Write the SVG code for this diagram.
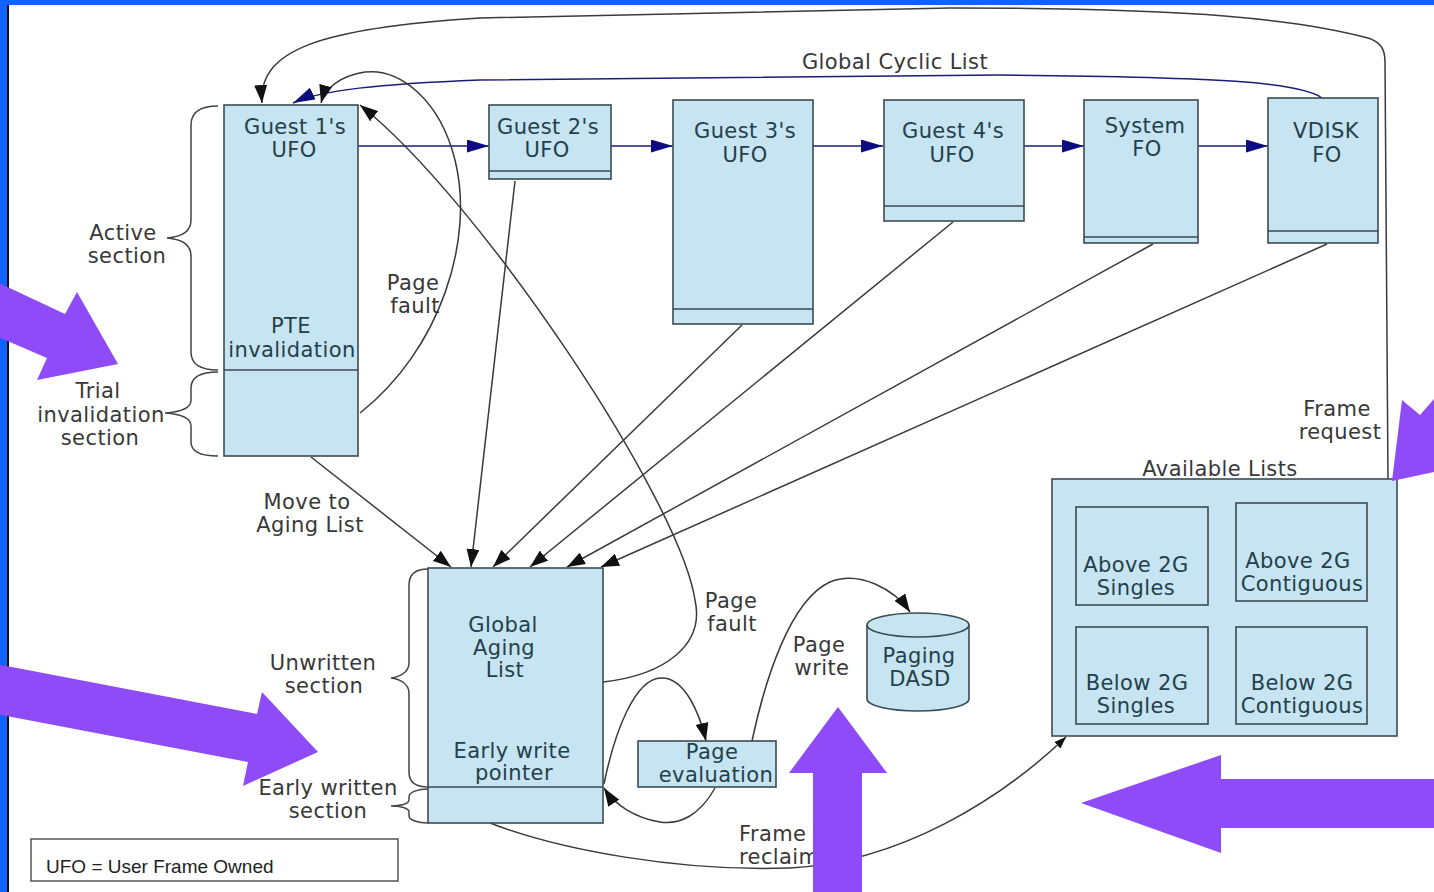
<svg xmlns="http://www.w3.org/2000/svg" width="1434" height="892" viewBox="0 0 1434 892">
<style>
.box{fill:#c6e4f1;stroke:#3b4b52;stroke-width:1.6}
.div{stroke:#3b4b52;stroke-width:1.6;fill:none}
.nt{font-family:"DejaVu Sans",sans-serif;font-size:21px;fill:#24404a;text-anchor:middle;letter-spacing:0.4px}
.lb{font-family:"DejaVu Sans",sans-serif;font-size:21px;fill:#383838;text-anchor:middle;letter-spacing:0.4px}
.ln{fill:none;stroke:#3a3a3a;stroke-width:1.5}
.nv{fill:none;stroke:#1c1c7a;stroke-width:1.5}
.br{fill:none;stroke:#444;stroke-width:1.5}
.pp{fill:#8f4bf8}
</style>
<defs>
<marker id="an" viewBox="0 0 22 13" refX="22" refY="6.5" markerWidth="22" markerHeight="13" markerUnits="userSpaceOnUse" orient="auto"><path d="M0,0 L22,6.5 L0,13 z" fill="#0c0c80"/></marker>
<marker id="ab" viewBox="0 0 18 13" refX="18" refY="6.5" markerWidth="18" markerHeight="13" markerUnits="userSpaceOnUse" orient="auto"><path d="M0,0 L18,6.5 L0,13 z" fill="#111"/></marker>
<marker id="as" viewBox="0 0 12 9" refX="12" refY="4.5" markerWidth="12" markerHeight="9" markerUnits="userSpaceOnUse" orient="auto"><path d="M0,0 L12,4.5 L0,9 z" fill="#111"/></marker>
</defs>
<rect x="0" y="0" width="1434" height="892" fill="#ffffff"/>
<rect x="0" y="0" width="1434" height="5" fill="#1163ff"/>
<rect x="0" y="0" width="7" height="892" fill="#1163ff"/>
<rect x="7" y="5" width="2" height="887" fill="#111"/>

<g id="connectors">
<line class="nv" x1="358" y1="146" x2="489" y2="146" marker-end="url(#an)"/>
<line class="nv" x1="611" y1="146" x2="673" y2="146" marker-end="url(#an)"/>
<line class="nv" x1="813" y1="146" x2="883" y2="146" marker-end="url(#an)"/>
<line class="nv" x1="1024" y1="146" x2="1084" y2="146" marker-end="url(#an)"/>
<line class="nv" x1="1198" y1="146" x2="1268" y2="146" marker-end="url(#an)"/>
<path class="nv" d="M1322,98 C1300,82 1220,77 1000,75 L480,80 C380,84 320,90 293,103" marker-end="url(#an)"/>
<path class="ln" d="M1388,479 L1385,62 C1385,48 1380,42 1368,38 C1300,20 1200,8 950,8 L480,18 C320,28 258,50 262,103" marker-end="url(#ab)"/>
<path class="ln" d="M360,413 C440,350 475,240 455,160 C440,100 400,68 365,72 C340,76 325,88 321,103" marker-end="url(#ab)"/>
<path class="ln" d="M603,682 C665,675 705,645 695,600 C680,500 480,200 360,105" marker-end="url(#ab)"/>
<line class="ln" x1="311" y1="457" x2="451" y2="567" marker-end="url(#ab)"/>
<line class="ln" x1="515" y1="181" x2="471" y2="567" marker-end="url(#ab)"/>
<line class="ln" x1="742" y1="325" x2="493" y2="567" marker-end="url(#ab)"/>
<line class="ln" x1="953" y1="222" x2="530" y2="567" marker-end="url(#ab)"/>
<line class="ln" x1="1153" y1="244" x2="567" y2="567" marker-end="url(#ab)"/>
<line class="ln" x1="1327" y1="244" x2="601" y2="567" marker-end="url(#ab)"/>
<path class="ln" d="M604,784 C615,730 635,680 660,678 C685,676 700,715 706,741" marker-end="url(#ab)"/>
<path class="ln" d="M715,788 C700,815 680,825 660,822 C635,818 615,805 604,788" marker-end="url(#ab)"/>
<path class="ln" d="M752,741 C765,680 790,600 830,582 C860,570 895,590 910,612" marker-end="url(#ab)"/>
<path class="ln" d="M490,823 C560,850 680,872 790,868 C900,862 1000,800 1066,737" marker-end="url(#as)"/>
<path class="ln" d="M237,366 C260,364 292,364 292,368 C292,372 260,378 236,381" marker-end="url(#as)"/>
</g>

<g id="guest1">
<rect class="box" x="224" y="105" width="134" height="351"/>
<line class="div" x1="224" y1="370" x2="358" y2="370"/>
<text class="nt" x="295" y="134">Guest 1's</text>
<text class="nt" x="294" y="157">UFO</text>
<text class="nt" x="291" y="333">PTE</text>
<text class="nt" x="292" y="357">invalidation</text>
</g>
<g id="guest2">
<rect class="box" x="489" y="105" width="122" height="74"/>
<line class="div" x1="489" y1="171" x2="611" y2="171"/>
<text class="nt" x="548" y="134">Guest 2's</text>
<text class="nt" x="547" y="157">UFO</text>
</g>
<g id="guest3">
<rect class="box" x="673" y="100" width="140" height="224"/>
<line class="div" x1="673" y1="309" x2="813" y2="309"/>
<text class="nt" x="745" y="138">Guest 3's</text>
<text class="nt" x="745" y="162">UFO</text>
</g>
<g id="guest4">
<rect class="box" x="884" y="100" width="140" height="121"/>
<line class="div" x1="884" y1="206" x2="1024" y2="206"/>
<text class="nt" x="953" y="138">Guest 4's</text>
<text class="nt" x="952" y="162">UFO</text>
</g>
<g id="systemfo">
<rect class="box" x="1084" y="100" width="114" height="143"/>
<line class="div" x1="1084" y1="237" x2="1198" y2="237"/>
<text class="nt" x="1145" y="133">System</text>
<text class="nt" x="1147" y="156">FO</text>
</g>
<g id="vdiskfo">
<rect class="box" x="1268" y="98" width="110" height="145"/>
<line class="div" x1="1268" y1="231" x2="1378" y2="231"/>
<text class="nt" x="1326" y="138">VDISK</text>
<text class="nt" x="1327" y="162">FO</text>
</g>
<g id="aging">
<rect class="box" x="428" y="568" width="175" height="255"/>
<line class="div" x1="428" y1="787" x2="603" y2="787"/>
<text class="nt" x="503" y="632">Global</text>
<text class="nt" x="504" y="655">Aging</text>
<text class="nt" x="505" y="677">List</text>
<text class="nt" x="512" y="758">Early write</text>
<text class="nt" x="514" y="780">pointer</text>
</g>
<g id="pageeval">
<rect class="box" x="638" y="741" width="138" height="46"/>
<text class="nt" x="712" y="759">Page</text>
<text class="nt" x="716" y="782">evaluation</text>
</g>
<g id="dasd">
<path class="box" d="M867,625 L867,699 A51,12 0 0 0 969,699 L969,625"/>
<ellipse class="box" cx="918" cy="625" rx="51" ry="12"/>
<text class="nt" x="919" y="663">Paging</text>
<text class="nt" x="920" y="686">DASD</text>
</g>
<g id="available">
<rect class="box" x="1052" y="479" width="345" height="257"/>
<text class="lb" x="1220" y="476">Available Lists</text>
<rect class="box" x="1076" y="507" width="132" height="98"/>
<text class="nt" x="1136" y="572">Above 2G</text>
<text class="nt" x="1136" y="595">Singles</text>
<rect class="box" x="1236" y="503" width="131" height="98"/>
<text class="nt" x="1298" y="568">Above 2G</text>
<text class="nt" x="1302" y="591">Contiguous</text>
<rect class="box" x="1076" y="627" width="132" height="97"/>
<text class="nt" x="1137" y="690">Below 2G</text>
<text class="nt" x="1136" y="713">Singles</text>
<rect class="box" x="1236" y="627" width="131" height="97"/>
<text class="nt" x="1302" y="690">Below 2G</text>
<text class="nt" x="1302" y="713">Contiguous</text>
</g>

<g id="braces">
<path class="br" d="M218,106 C200,106 191,112 191,125 L191,220 C191,232 180,237 167,238 C180,239 191,244 191,256 L191,352 C191,364 200,370 218,370"/>
<path class="br" d="M218,372 C200,372 191,378 191,388 L191,400 C191,408 180,412 165,413 C180,414 191,418 191,426 L191,442 C191,451 200,456 218,456"/>
<path class="br" d="M428,569 C415,569 409,575 409,585 L409,663 C409,672 400,677 391,678 C400,679 409,684 409,693 L409,772 C409,782 415,787 428,787"/>
<path class="br" d="M428,789 C418,789 409,792 409,797 L409,800 C409,804 400,806 391,806 C400,806 409,808 409,812 L409,816 C409,820 418,823 428,823"/>
</g>

<g id="labels">
<text class="lb" x="895" y="69">Global Cyclic List</text>
<text class="lb" x="123" y="240">Active</text>
<text class="lb" x="127" y="263">section</text>
<text class="lb" x="98" y="398">Trial</text>
<text class="lb" x="101" y="422">invalidation</text>
<text class="lb" x="100" y="445">section</text>
<text class="lb" x="413" y="290">Page</text>
<text class="lb" x="415" y="313">fault</text>
<text class="lb" x="307" y="509">Move to</text>
<text class="lb" x="310" y="532">Aging List</text>
<text class="lb" x="323" y="670">Unwritten</text>
<text class="lb" x="324" y="693">section</text>
<text class="lb" x="328" y="795">Early written</text>
<text class="lb" x="328" y="818">section</text>
<text class="lb" x="731" y="608">Page</text>
<text class="lb" x="732" y="631">fault</text>
<text class="lb" x="819" y="652">Page</text>
<text class="lb" x="822" y="675">write</text>
<text class="lb" x="739" y="841" style="text-anchor:start">Frame</text>
<text class="lb" x="739" y="864" style="text-anchor:start">reclaim</text>
<text class="lb" x="1337" y="416">Frame</text>
<text class="lb" x="1340" y="439">request</text>
</g>

<g id="legend">
<rect x="31" y="839" width="367" height="42" fill="#fff" stroke="#555" stroke-width="1.5"/>
<text x="46" y="873" font-family="'Liberation Sans',Arial,sans-serif" font-size="19" fill="#222">UFO = User Frame Owned</text>
</g>

<g id="highlights">
<polygon class="pp" points="-20,274 65,314 77,292 118,364 37,380 47,358 -20,329"/>
<polygon class="pp" points="-20,661 257,714 262,692 318,752 243,786 248,762 -20,711"/>
<polygon class="pp" points="813,900 813,773 789,773 838,707 887,773 862,773 862,900"/>
<polygon class="pp" points="1081,803 1221,755 1221,779 1440,779 1440,828 1221,828 1221,853"/>
<polygon class="pp" points="1392,481 1402,400 1420,415 1480,346 1520,380 1467,465"/>
</g>
</svg>
